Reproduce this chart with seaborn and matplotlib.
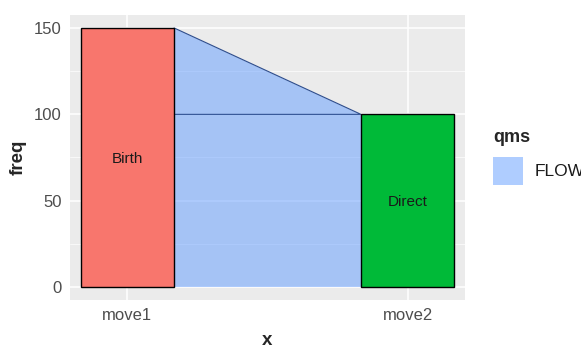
import matplotlib
matplotlib.use("Agg")
import matplotlib.pyplot as plt
from matplotlib.patches import Rectangle
import seaborn as sns
import pandas as pd

# ---- data ----
stages = ["move1", "move2"]
strata = ["Birth", "Direct"]
stratum_freq = [150, 100]
flow_lower = [100, 100]     # flow carried through (bottom band)
flow_upper = [150, 100]     # top edge of flow (tapering part)
legend_label = "FLOW"
legend_title = "qms"
y_ticks = [0, 50, 100, 150]

strata_colors = ["#F8766D", "#00BA38"]
flow_color = "#619CFF"

sns.set_style("darkgrid", {"axes.facecolor": "#EBEBEB", "grid.color": "white"})
plt.rcParams["font.family"] = ["Liberation Sans", "DejaVu Sans"]

fig = plt.figure(figsize=(5.81, 3.51), dpi=100)
ax = fig.add_axes([70 / 581, 1 - 300 / 351, (465 - 70) / 581, (300 - 15) / 351])

df = pd.DataFrame({"stage": stages, "freq": stratum_freq, "stratum": strata})
bar_w = 1 / 3

# flows (drawn first, under the bars)
x0 = 0 + bar_w / 2
x1 = 1 - bar_w / 2
ax.fill_between([x0, x1], [0, 0], flow_lower, color=flow_color, alpha=0.5,
                linewidth=0, zorder=2)
ax.fill_between([x0, x1], flow_lower, flow_upper, facecolor=flow_color, alpha=0.5,
                linewidth=0, zorder=2)
ax.fill_between([x0, x1], flow_lower, flow_upper, facecolor="none",
                edgecolor="#2E4D8C", linewidth=0.8, zorder=2.5)

sns.barplot(data=df, x="stage", y="freq", hue="stratum", palette=strata_colors,
            dodge=False, width=bar_w, edgecolor="black", linewidth=1.0,
            legend=False, ax=ax, zorder=3, saturation=1)

for i, (lab, f) in enumerate(zip(strata, stratum_freq)):
    ax.text(i, f / 2 - 1, lab, ha="center", va="center", fontsize=11, color="#1A1A1A", zorder=4)

ax.set_xlim(-0.205, 1.205)
ax.set_ylim(-7.5, 157.5)
ax.set_yticks(y_ticks)
ax.set_yticks([25, 75, 125], minor=True)
ax.grid(True, which="major", color="white", linewidth=1.1)
ax.grid(True, which="minor", axis="y", color="white", linewidth=0.5)
ax.xaxis.grid(True, which="major", color="white", linewidth=1.1)
ax.set_axisbelow(True)
for s in ax.spines.values():
    s.set_visible(False)

ax.tick_params(axis="both", which="major", length=4, width=0.8, color="#333333",
               labelsize=12, labelcolor="#4D4D4D", pad=2, direction="out")
ax.tick_params(axis="both", which="minor", length=0)
ax.set_xlabel("x", fontsize=13.5, fontweight="bold", labelpad=6)
ax.set_ylabel("freq", fontsize=13.5, fontweight="bold", labelpad=5)

# legend (ggplot style)
fig.text(493 / 581, 1 - 138 / 351, legend_title, fontsize=13, fontweight="bold",
         ha="left", va="center")
fig.patches.append(Rectangle((493 / 581, 1 - 185 / 351), 30 / 581, 28 / 351,
                             transform=fig.transFigure, facecolor=flow_color,
                             alpha=0.5, edgecolor="none"))
fig.text(535 / 581, 1 - 172 / 351, legend_label, fontsize=12.5, color="#1A1A1A",
         ha="left", va="center")

fig.savefig("out.png", dpi=100)
